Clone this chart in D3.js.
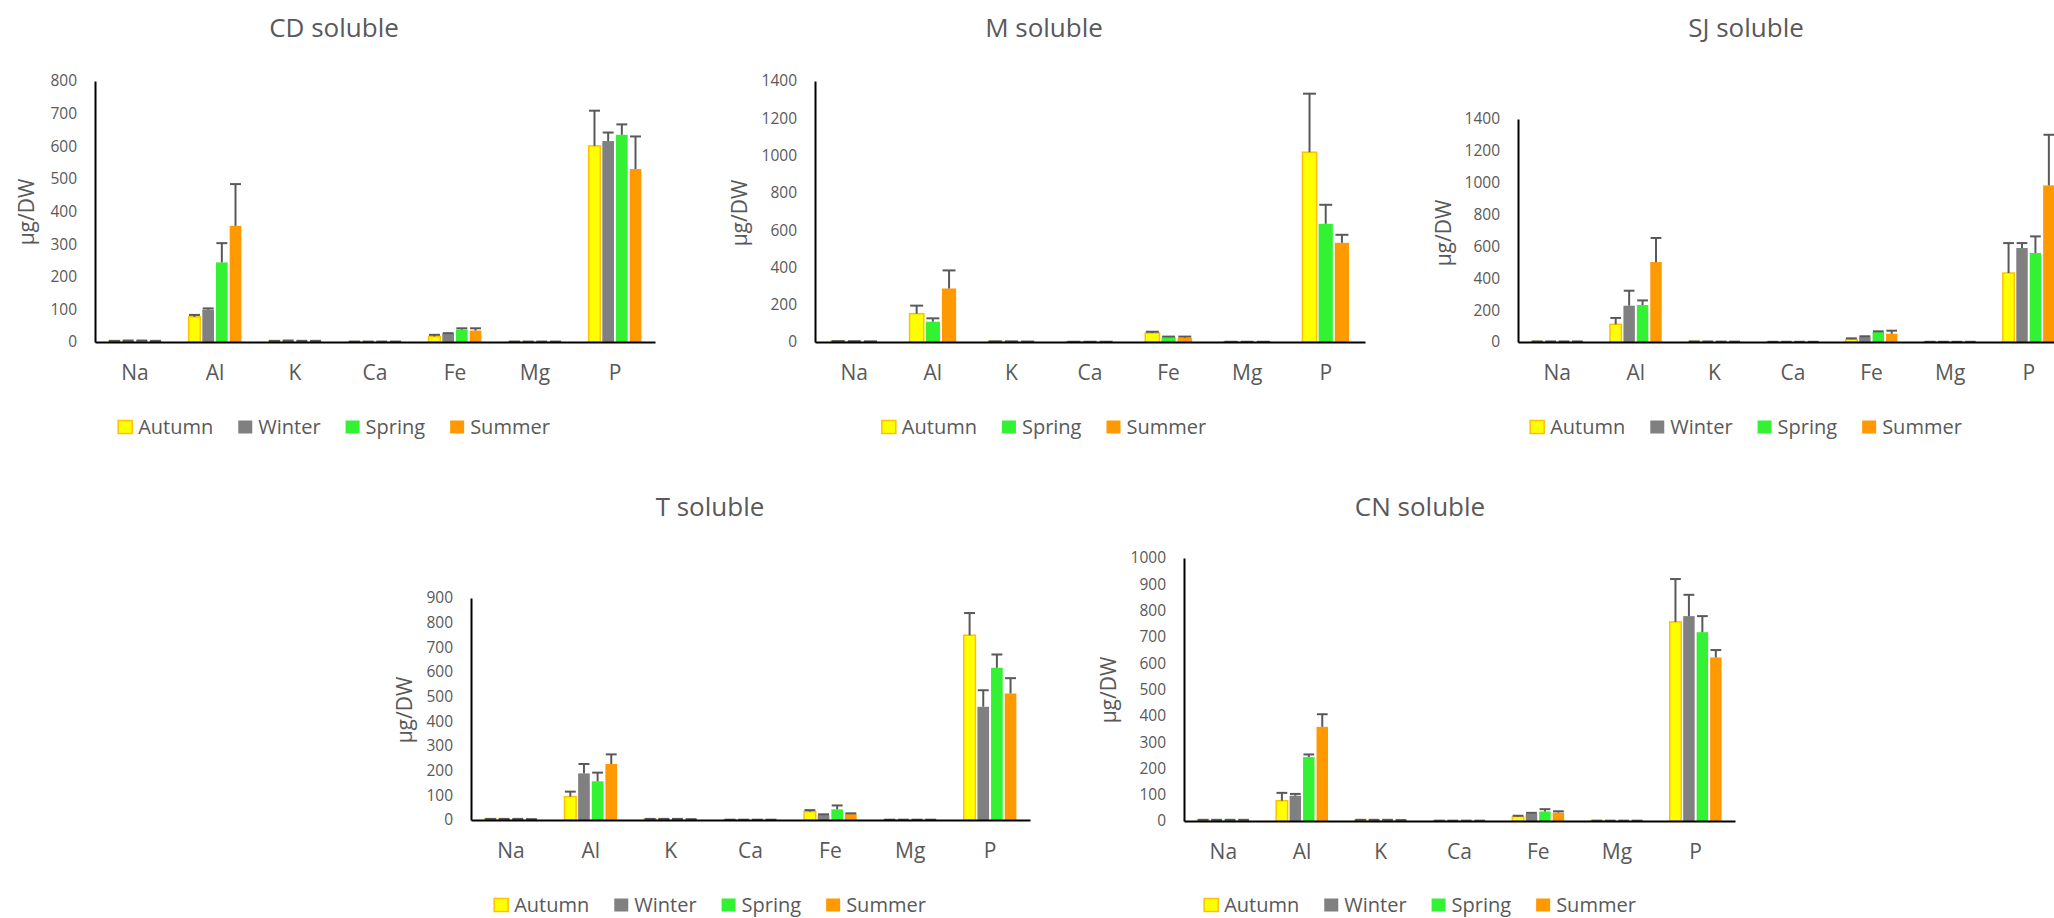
<!DOCTYPE html>
<html>
<head>
<meta charset="utf-8">
<script src="https://cdn.jsdelivr.net/npm/d3@7"></script>
<style>
  body { margin: 0; background: #fff; }
  svg text { font-family: "Open Sans", "Noto Sans", sans-serif; fill: #595959; }
</style>
</head>
<body>
<svg width="2054" height="918"></svg>
<script>
var categories = ["Na", "Al", "K", "Ca", "Fe", "Mg", "P"];
var seasons = ["Autumn", "Winter", "Spring", "Summer"];
var colors = { Autumn: "#ffff00", Winter: "#808080", Spring: "#33f233", Summer: "#ff9900" };

// CD soluble
var cdAutumn = [3, 77, 3, 1, 17, 1, 601], cdAutumnErr = [0.5, 6, 0.5, 0.3, 5, 0.3, 108];
var cdWinter = [4, 99, 4, 1, 25, 1, 616], cdWinterErr = [0.5, 4, 0.5, 0.3, 2, 0.3, 26];
var cdSpring = [4, 244, 3, 1, 38, 1, 635], cdSpringErr = [0.5, 59, 0.5, 0.3, 4, 0.3, 32];
var cdSummer = [3, 356, 3, 1, 35, 1, 530], cdSummerErr = [0.5, 128, 0.5, 0.3, 7, 0.3, 100];

// M soluble (no winter)
var mAutumn = [4, 152, 3, 1, 48, 1, 1018], mAutumnErr = [1, 43, 0.5, 0.3, 7, 0.3, 314];
var mSpring = [4, 109, 3, 1, 25, 1, 634], mSpringErr = [0.5, 18, 0.5, 0.3, 4, 0.3, 102];
var mSummer = [3, 287, 2, 1, 23, 1, 532], mSummerErr = [0.5, 97, 0.5, 0.3, 6, 0.3, 43];

// SJ soluble
var sjAutumn = [3, 111, 3, 1, 17, 1, 433], sjAutumnErr = [0.5, 40, 0.5, 0.3, 6, 0.3, 188];
var sjWinter = [3, 228, 3, 1, 33, 1, 590], sjWinterErr = [0.5, 94, 0.5, 0.3, 3, 0.3, 31];
var sjSpring = [3, 232, 2, 1, 63, 1, 559], sjSpringErr = [0.5, 29, 0.5, 0.3, 4, 0.3, 104];
var sjSummer = [3, 502, 2, 1, 52, 1, 983], sjSummerErr = [0.5, 151, 0.5, 0.3, 19, 0.3, 318];

// T soluble
var tAutumn = [4, 95, 4, 1, 34, 1, 749], tAutumnErr = [0.5, 20, 0.5, 0.3, 6, 0.3, 90];
var tWinter = [4, 189, 4, 1, 20, 1, 459], tWinterErr = [0.5, 38, 0.5, 0.3, 3, 0.3, 67];
var tSpring = [4, 157, 4, 1, 43, 1, 617], tSpringErr = [0.5, 35, 0.5, 0.3, 16, 0.3, 54];
var tSummer = [3, 227, 3, 1, 24, 1, 513], tSummerErr = [0.5, 39, 0.5, 0.3, 3, 0.3, 62];

// CN soluble
var cnAutumn = [4, 77, 4, 1, 17, 1, 757], cnAutumnErr = [0.5, 30, 0.5, 0.3, 3, 0.3, 163];
var cnWinter = [4, 96, 4, 1, 28, 1, 779], cnWinterErr = [0.5, 7, 0.5, 0.3, 3, 0.3, 81];
var cnSpring = [4, 243, 4, 1, 36, 1, 718], cnSpringErr = [0.5, 10, 0.5, 0.3, 9, 0.3, 61];
var cnSummer = [4, 358, 3, 1, 32, 1, 622], cnSummerErr = [0.5, 48, 0.5, 0.3, 5, 0.3, 28];

var panels = [
  { title: "CD soluble", x0: 95, x1: 655, yTop: 81, yZero: 342, max: 800, step: 100,
    cx: 334, titleY: 28, legendY: 427, labelX: 27, labelY: 212,
    series: [["Autumn", cdAutumn, cdAutumnErr], ["Winter", cdWinter, cdWinterErr],
             ["Spring", cdSpring, cdSpringErr], ["Summer", cdSummer, cdSummerErr]] },
  { title: "M soluble", x0: 815, x1: 1365, yTop: 81, yZero: 342, max: 1400, step: 200,
    cx: 1044, titleY: 28, legendY: 427, labelX: 740, labelY: 213,
    series: [["Autumn", mAutumn, mAutumnErr], ["Spring", mSpring, mSpringErr],
             ["Summer", mSummer, mSummerErr]] },
  { title: "SJ soluble", x0: 1518, x1: 2068, yTop: 119, yZero: 342, max: 1400, step: 200,
    cx: 1746, titleY: 28, legendY: 427, labelX: 1444, labelY: 233,
    series: [["Autumn", sjAutumn, sjAutumnErr], ["Winter", sjWinter, sjWinterErr],
             ["Spring", sjSpring, sjSpringErr], ["Summer", sjSummer, sjSummerErr]] },
  { title: "T soluble", x0: 471, x1: 1030, yTop: 598, yZero: 820, max: 900, step: 100,
    cx: 710, titleY: 507, legendY: 905, labelX: 405, labelY: 710,
    series: [["Autumn", tAutumn, tAutumnErr], ["Winter", tWinter, tWinterErr],
             ["Spring", tSpring, tSpringErr], ["Summer", tSummer, tSummerErr]] },
  { title: "CN soluble", x0: 1184, x1: 1735, yTop: 558, yZero: 821, max: 1000, step: 100,
    cx: 1420, titleY: 507, legendY: 905, labelX: 1109, labelY: 690,
    series: [["Autumn", cnAutumn, cnAutumnErr], ["Winter", cnWinter, cnWinterErr],
             ["Spring", cnSpring, cnSpringErr], ["Summer", cnSummer, cnSummerErr]] }
];

var svg = d3.select("svg");

function drawPanel(p) {
  var g = svg.append("g");
  var x = d3.scaleBand().domain(categories).range([p.x0, p.x1]);
  var names = p.series.map(function (s) { return s[0]; });
  var xs = d3.scaleBand().domain(names).range([0, x.bandwidth()]).paddingOuter(0.925);
  var y = d3.scaleLinear().domain([0, p.max]).range([p.yZero, p.yTop]);

  // bars + one-sided error bars
  p.series.forEach(function (s) {
    var name = s[0], vals = s[1], errs = s[2];
    var w = xs.bandwidth();
    g.append("g")
      .selectAll("rect")
      .data(categories)
      .enter()
      .append("rect")
      .attr("x", function (d) { return x(d) + xs(name) + 1; })
      .attr("width", w - 2)
      .attr("y", function (d, i) { return y(vals[i]); })
      .attr("height", function (d, i) { return p.yZero - y(vals[i]); })
      .style("fill", colors[name])
      .style("stroke", name == "Autumn" ? "#ffc000" : "none")
      .style("stroke-width", 1.5);

    var eb = g.append("g").style("stroke", "#595959").style("stroke-width", 2);
    categories.forEach(function (c, i) {
      var cxb = x(c) + xs(name) + w / 2;
      eb.append("line")
        .attr("x1", cxb).attr("x2", cxb)
        .attr("y1", y(vals[i])).attr("y2", y(vals[i] + errs[i]));
      eb.append("line")
        .attr("x1", cxb - w * 0.4).attr("x2", cxb + w * 0.4)
        .attr("y1", y(vals[i] + errs[i])).attr("y2", y(vals[i] + errs[i]));
    });
  });

  // y axis
  var ticks = d3.range(0, p.max + 1, p.step);
  var ya = g.append("g")
    .attr("transform", "translate(" + p.x0 + ",0)")
    .call(d3.axisLeft(y).tickValues(ticks).tickFormat(d3.format("d"))
      .tickSize(0).tickSizeOuter(0).tickPadding(18));
  ya.select(".domain").style("stroke", "#000").style("stroke-width", 2);
  ya.selectAll("text").style("font-size", "15.5px").style("fill", "#595959");

  // x axis
  var xa = g.append("g")
    .attr("transform", "translate(0," + p.yZero + ")")
    .call(d3.axisBottom(x).tickSize(0).tickSizeOuter(0).tickPadding(23));
  xa.select(".domain").style("stroke", "#000").style("stroke-width", 2);
  xa.selectAll("text").style("font-size", "21px").style("fill", "#595959");

  // title
  g.append("text")
    .attr("x", p.cx).attr("y", p.titleY).attr("dy", "0.35em")
    .attr("text-anchor", "middle")
    .style("font-size", "26px")
    .text(p.title);

  // y label
  g.append("text")
    .attr("transform", "translate(" + p.labelX + "," + p.labelY + ") rotate(-90)")
    .attr("text-anchor", "middle").attr("dy", "0.35em")
    .style("font-size", "21px")
    .text("µg/DW");

  // legend
  var leg = g.append("g");
  var pos = 0;
  names.forEach(function (n) {
    var item = leg.append("g").attr("transform", "translate(" + pos + ",0)");
    item.append("rect")
      .attr("x", 0).attr("y", -6.5).attr("width", 14).attr("height", 13)
      .style("fill", colors[n])
      .style("stroke", n == "Autumn" ? "#ffc000" : "none")
      .style("stroke-width", 1.5);
    var t = item.append("text")
      .attr("x", 20).attr("dy", "0.35em")
      .style("font-size", "20px")
      .text(n);
    pos += 20 + t.node().getComputedTextLength() + 25;
  });
  pos -= 25;
  leg.attr("transform", "translate(" + (p.cx - pos / 2) + "," + p.legendY + ")");
}

panels.forEach(drawPanel);
</script>
</body>
</html>
